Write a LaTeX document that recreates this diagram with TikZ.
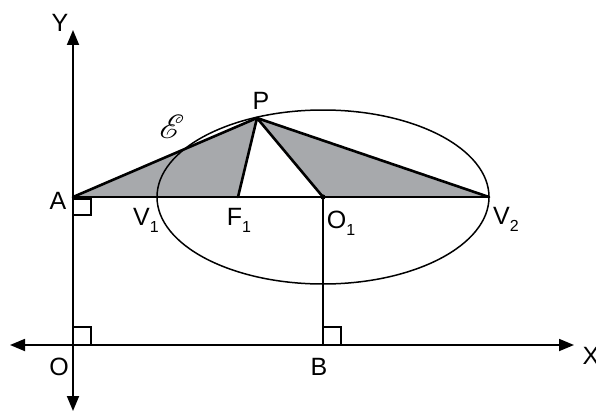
\documentclass[tikz,border=0pt]{standalone}
\usepackage{fontspec}
\setmainfont{Liberation Sans}
\usepackage{mathrsfs}
\usetikzlibrary{arrows.meta}
\newcommand{\lowsub}[1]{\raisebox{-0.28em}{\fontsize{16}{18}\selectfont #1}}
\begin{document}
\begin{tikzpicture}[x=1pt,y=-1pt,
  lbl/.style={inner sep=0pt,font=\fontsize{25}{30}\selectfont},
  heavy/.style={line width=2.6pt,line join=round,line cap=round},
  axisline/.style={line width=1.8pt,{Triangle[length=15pt,width=12pt]}-{Triangle[length=15pt,width=12pt]}},
  thinline/.style={line width=1.8pt},
  ellipseline/.style={line width=1.5pt},
  rightangle/.style={line width=1.5pt},
  shade/.style={fill=shadegray}]
\definecolor{shadegray}{HTML}{A7A9AC}
\useasboundingbox (0,0) rectangle (596,412);
% points
\coordinate (O) at (73,345);
\coordinate (Ytop) at (73,30);
\coordinate (Ybot) at (73,411);
\coordinate (Xl) at (10,345);
\coordinate (Xr) at (574,345);
\coordinate (A) at (73,197);
\coordinate (V1) at (157,197);
\coordinate (F1) at (238,197);
\coordinate (O1) at (323,197);
\coordinate (V2) at (489,197);
\coordinate (P) at (257,118);
\coordinate (B) at (323,345);
% shaded triangles
\fill[shade] (A) -- (P) -- (F1) -- cycle;
\fill[shade] (P) -- (O1) -- (V2) -- cycle;
% ellipse
\draw[ellipseline] (O1) ellipse [x radius=166pt, y radius=87pt];
% axes
\draw[axisline] (Ybot) -- (Ytop);
\draw[axisline] (Xl) -- (Xr);
% perpendicular O1-B
\draw[thinline] (O1) -- (B);
% heavy lines
\draw[heavy] (A) -- (V2);
\draw[heavy] (A) -- (P) -- (V2);
\draw[heavy] (F1) -- (P) -- (O1);
\fill (O1) circle [radius=2.6pt];
% right-angle marks
\draw[rightangle] (73,199) rectangle (91,215);
\draw[rightangle] (73,345) rectangle (91,327);
\draw[rightangle] (323,345) rectangle (341,327);
% labels
\node[lbl] (lY) at (60,23) {Y};
\node[lbl] (lX) at (591,356) {X};
\node[lbl] (lO) at (59,367) {O};
\node[lbl] (lB) at (319,367) {B};
\node[lbl] (lA) at (58,201) {A};
\node[lbl] (lP) at (261,101) {P};
\node[lbl] (lV1) at (146,220) {V\lowsub{1}};
\node[lbl] (lF1) at (239,220) {F\lowsub{1}};
\node[lbl] (lO1) at (341,223) {O\lowsub{1}};
\node[lbl] (lV2) at (506,219) {V\lowsub{2}};
\node[lbl] (lE) at (172,127) {\scalebox{1.35}{$\mathscr{E}$}};
\end{tikzpicture}
\end{document}
